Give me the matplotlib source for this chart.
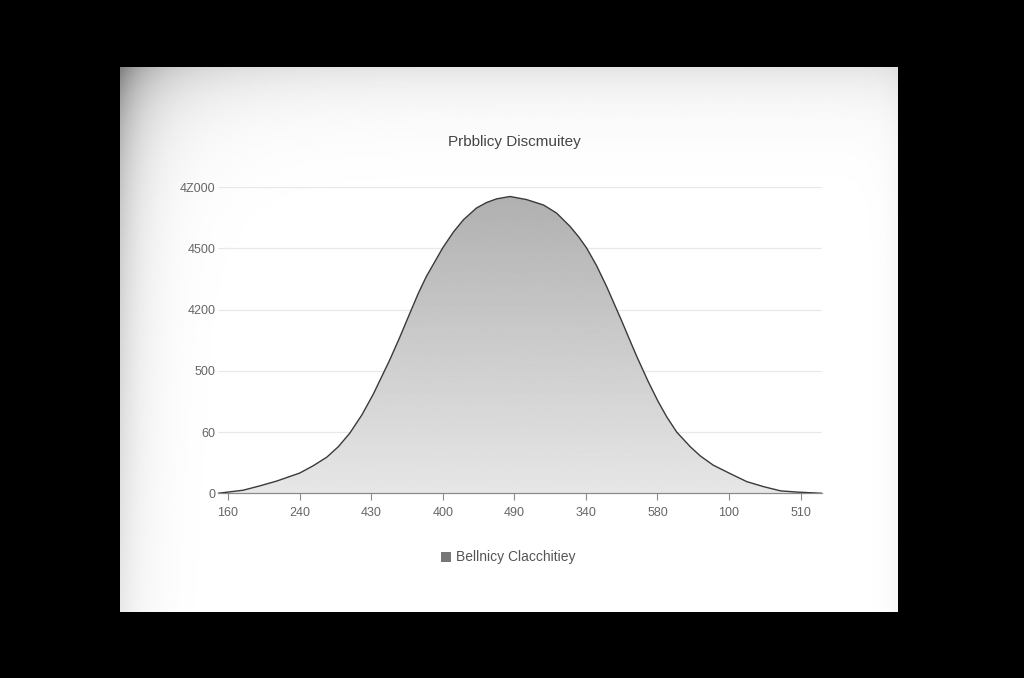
import matplotlib.pyplot as plt
import numpy as np
from matplotlib.patches import Polygon

plt.rcParams['font.family'] = ['Liberation Sans', 'DejaVu Sans']

title = 'Prbblicy Discmuitey'
legend_label = 'Bellnicy Clacchitiey'
x_labels = ['160', '240', '430', '400', '490', '340', '580', '100', '510']
y_labels = ['0', '60', '500', '4200', '4500', '4Z000']

# curve: position in tick units, height in gridline units
x_vals = [-0.14, 0.21, 0.44, 0.68, 1.0, 1.19, 1.38, 1.54, 1.70, 1.87, 2.03,
          2.26, 2.40, 2.54, 2.66, 2.77, 3.0, 3.15, 3.29, 3.47, 3.61, 3.75,
          3.94, 4.17, 4.41, 4.59, 4.78, 4.90, 5.01, 5.15, 5.29, 5.38, 5.50,
          5.59, 5.71, 5.87, 6.01, 6.13, 6.27, 6.46, 6.60, 6.78, 7.02, 7.25,
          7.48, 7.72, 7.95, 8.30]
y_vals = [0.0, 0.05, 0.12, 0.20, 0.33, 0.45, 0.59, 0.76, 0.98, 1.28, 1.62,
          2.18, 2.55, 2.94, 3.27, 3.54, 4.01, 4.27, 4.47, 4.66, 4.75, 4.81,
          4.85, 4.80, 4.71, 4.58, 4.36, 4.19, 4.01, 3.72, 3.38, 3.14, 2.82,
          2.57, 2.24, 1.83, 1.50, 1.25, 1.00, 0.76, 0.61, 0.46, 0.32, 0.19,
          0.11, 0.04, 0.02, 0.0]

fig = plt.figure(figsize=(10.24, 6.78), dpi=100, facecolor='black')

# white panel with vignette
W, H = 1024, 678
panel = fig.add_axes([120 / W, 1 - 612 / H, 778 / W, 545 / H])
panel.set_axis_off()
px = np.linspace(0, 1, 400)
py = np.linspace(0, 1, 300)
gx, gy = np.meshgrid(px, py)
shade = 1 - 0.22 * np.exp(-gx / 0.03) * (1 - 0.6 * gy) \
    - 0.10 * np.exp(-gy / 0.06) - 0.18 * np.exp(-(gx / 0.08 + gy / 0.12)) \
    - 0.03 * np.exp(-(1 - gx) / 0.015)
shade = np.clip(shade, 0, 1)
panel.imshow(shade, cmap='gray', vmin=0, vmax=1, aspect='auto',
             extent=[0, 1, 1, 0], interpolation='bilinear')

ax = fig.add_axes([218 / W, 1 - 493.3 / H, 604 / W, 306 / H])
ax.set_facecolor('none')

for i in range(1, len(y_labels)):
    ax.axhline(i, color='#e8e8e8', lw=0.9, zorder=0)

# gradient fill under curve
grad = np.linspace(0, 1, 256).reshape(-1, 1)
img = ax.imshow(grad, cmap='gray', vmin=-3.2, vmax=1.45, aspect='auto',
                extent=[-0.14, 8.30, 0, 4.9], origin='upper', zorder=1)
poly = Polygon(np.column_stack([x_vals, y_vals]), closed=True,
               transform=ax.transData, facecolor='none', edgecolor='none')
ax.add_patch(poly)
img.set_clip_path(poly)
ax.plot(x_vals, y_vals, color='#3a3a3a', lw=1.0, zorder=3,
        solid_joinstyle='round')
ax.set_xlim(-0.14, 8.30)
ax.set_ylim(0, 5)

for s in ['top', 'right', 'left']:
    ax.spines[s].set_visible(False)
ax.spines['bottom'].set_color('#8a8a8a')
ax.spines['bottom'].set_linewidth(0.9)

ax.set_xticks(range(len(x_labels)))
ax.set_xticklabels(x_labels)
ax.set_yticks(range(len(y_labels)))
ax.set_yticklabels(y_labels)
ax.tick_params(axis='x', colors='#8a8a8a', labelcolor='#666666', length=5,
               labelsize=9, pad=5)
ax.tick_params(axis='y', length=0, labelcolor='#666666', labelsize=9, pad=2)

fig.text(514 / W, 1 - 142 / H, title, ha='center', va='center',
         fontsize=11, color='#444444')
fig.patches.append(plt.Rectangle((441 / W, 1 - 562 / H), 10 / W, 10 / H,
                                 transform=fig.transFigure,
                                 facecolor='#777777', edgecolor='none'))
fig.text(456 / W, 1 - 557 / H, legend_label, ha='left', va='center',
         fontsize=10, color='#555555')

fig.savefig('out.png', dpi=100, facecolor='black')
